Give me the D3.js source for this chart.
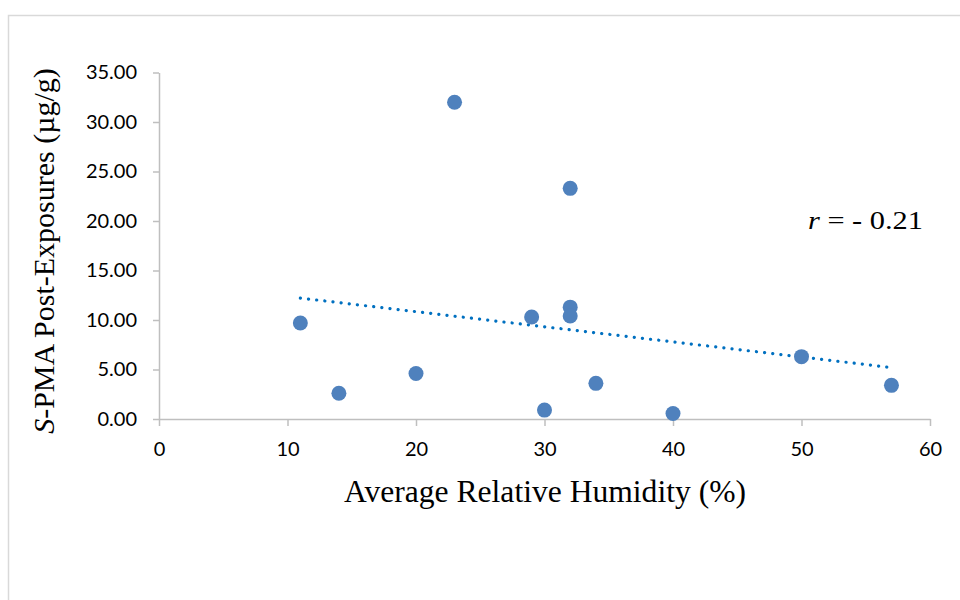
<!DOCTYPE html>
<html>
<head>
<meta charset="utf-8">
<script src="https://cdn.jsdelivr.net/npm/d3@7"></script>
<style>
  html, body { margin: 0; padding: 0; background: #fff; }
  svg { display: block; }
</style>
</head>
<body>
<svg id="chart" width="960" height="600"></svg>
<script>
// Relative humidity (%) and S-PMA post-exposure levels (µg/g)
const humidity = [11, 14, 20, 23, 29, 30, 32, 32, 32, 34, 40, 50, 57];
const spma     = [9.7, 2.6, 4.6, 32.0, 10.3, 0.9, 23.3, 11.3, 10.4, 3.6, 0.55, 6.3, 3.4];
const xTicks = [0, 10, 20, 30, 40, 50, 60];
const yTicks = [0, 5, 10, 15, 20, 25, 30, 35];
const rLabel = "- 0.21";

const svg = d3.select("#chart");

// chart area frame
svg.append("rect")
  .attr("x", 8.5).attr("y", 15.5)
  .attr("width", 1000).attr("height", 1000)
  .attr("fill", "none").attr("stroke", "#d9d9d9").attr("stroke-width", 1.5);

const x = d3.scaleLinear().domain([0, 60]).range([159, 930]);
const y = d3.scaleLinear().domain([0, 35]).range([419, 72.5]);

const axisColor = "#bfbfbf";

// x axis
const gx = svg.append("g").attr("transform", `translate(0,${y(0)})`)
  .call(d3.axisBottom(x).tickValues(xTicks).tickSize(7).tickSizeOuter(0).tickPadding(15.5)
    .tickFormat(d3.format("d")));
// y axis
const gy = svg.append("g").attr("transform", `translate(${x(0)},0)`)
  .call(d3.axisLeft(y).tickValues(yTicks).tickSize(6).tickSizeOuter(0).tickPadding(16)
    .tickFormat(d3.format(".2f")));

[gx, gy].forEach(g => {
  g.select(".domain").attr("stroke", axisColor).attr("stroke-width", 1.5);
  g.selectAll(".tick line").attr("stroke", axisColor).attr("stroke-width", 1.5);
  g.selectAll(".tick text")
    .attr("fill", "#000")
    .style("font-family", "Lato, 'Open Sans', sans-serif")
    .style("font-size", "20px");
});

// least-squares trend line over the observed humidity range
const pts = humidity.map((h, i) => ({ h, v: spma[i] }));
const mx = d3.mean(humidity), my = d3.mean(spma);
const sxy = d3.sum(pts, p => (p.h - mx) * (p.v - my));
const sxx = d3.sum(pts, p => (p.h - mx) ** 2);
const slope = sxy / sxx, intercept = my - slope * mx;
const hExtent = d3.extent(humidity);

svg.append("line")
  .attr("x1", x(hExtent[0])).attr("y1", y(intercept + slope * hExtent[0]))
  .attr("x2", x(hExtent[1])).attr("y2", y(intercept + slope * hExtent[1]))
  .attr("stroke", "#0070c0").attr("stroke-width", 3.2)
  .attr("stroke-linecap", "round").attr("stroke-dasharray", "0.1 8.1");

// observations
svg.append("g").selectAll("circle").data(pts).join("circle")
  .attr("cx", d => x(d.h)).attr("cy", d => y(d.v)).attr("r", 7.5)
  .attr("fill", "#4f81bd");

// axis titles
svg.append("text")
  .attr("x", 545).attr("y", 502)
  .attr("text-anchor", "middle")
  .style("font-family", "'Liberation Serif', 'Times New Roman', serif")
  .style("font-size", "31.6px")
  .text("Average Relative Humidity (%)");

const yt = svg.append("text")
  .attr("transform", "translate(53.5,251) rotate(-90)")
  .attr("text-anchor", "middle")
  .style("font-family", "'Liberation Serif', 'Times New Roman', serif")
  .style("font-size", "30px");
yt.append("tspan").attr("font-style", "italic").text("S");
yt.append("tspan").text("-PMA Post-Exposures (µg/g)");

// correlation coefficient
const rt = svg.append("text")
  .attr("x", 808).attr("y", 229)
  .attr("textLength", 115).attr("lengthAdjust", "spacingAndGlyphs")
  .style("font-family", "'Liberation Serif', 'Times New Roman', serif")
  .style("font-size", "26px");
rt.append("tspan").attr("font-style", "italic").text("r");
rt.append("tspan").text(" = " + rLabel);
</script>
</body>
</html>
